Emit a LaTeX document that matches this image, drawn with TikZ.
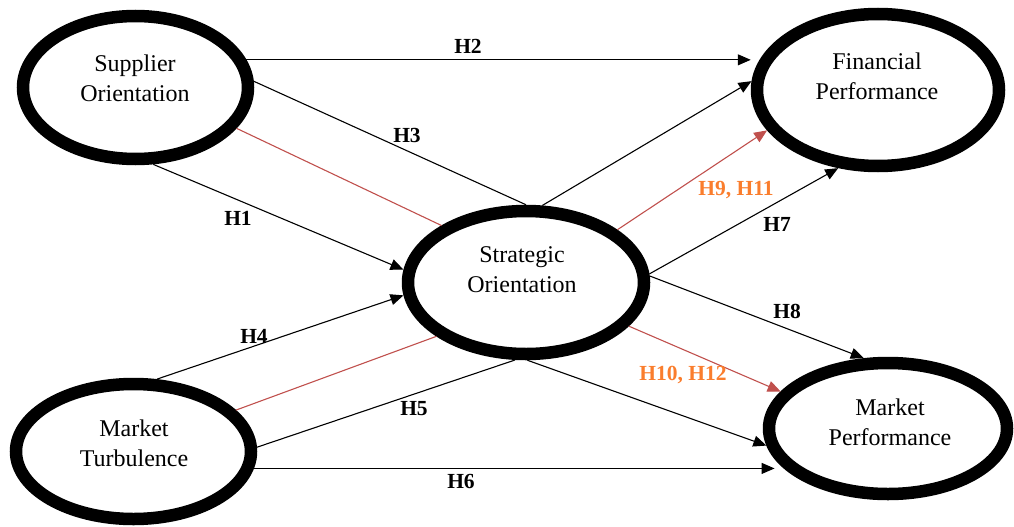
\documentclass[tikz,border=0pt]{standalone}
\usepackage{fontspec}
\setmainfont{Liberation Serif}
\usetikzlibrary{arrows.meta,shapes.geometric}
\definecolor{redline}{RGB}{192,80,77}
\definecolor{orangelab}{RGB}{250,125,45}
\begin{document}
\begin{tikzpicture}[x=1pt,y=-1pt,
  ell/.style={ellipse, draw=black, line width=12.5pt, fill=white, inner sep=0pt},
  conc/.style={align=center, font=\fontsize{24}{29.5}\selectfont, inner sep=0pt},
  conn/.style={draw=black, line width=1.1pt, -{Triangle[length=13pt,width=11pt]}},
  plainline/.style={draw=black, line width=1.1pt},
  redconn/.style={draw=redline, line width=1.1pt, -{Triangle[length=13pt,width=11pt]}},
  redplain/.style={draw=redline, line width=1.1pt},
  hlab/.style={font=\fontsize{21.5}{24}\selectfont\bfseries, inner sep=0pt, anchor=base},
  olab/.style={hlab, text=orangelab}]
\useasboundingbox (0,0) rectangle (1014,527);

% concepts
\node[ell, minimum width=225pt, minimum height=143pt] (so) at (135.5,87.5) {};
\node[ell, minimum width=236pt, minimum height=143pt] (sto) at (526,282.5) {};
\node[ell, minimum width=242pt, minimum height=152pt] (fp) at (878,90) {};
\node[ell, minimum width=235pt, minimum height=135pt] (mt) at (133.5,451.5) {};
\node[ell, minimum width=238pt, minimum height=131pt] (mp) at (888,428.5) {};

\node[conc] (sotx) at (135,78.5) {Supplier\\Orientation};
\node[conc] (stotx) at (522,269.8) {Strategic\\Orientation};
\node[conc] (fptx) at (877,76.5) {Financial\\Performance};
\node[conc] (mttx) at (134,443.5) {Market\\Turbulence};
\node[conc] (mptx) at (890,422.5) {Market\\Performance};

% connectors
\draw[conn] (so.14.6) -- (so.14.6 -| fp.west);
\draw[plainline] (so.3.6) -- (sto.90.7);
\draw[conn] (sto.-89.3) -- (mp.188.9);
\draw[redplain] (so.-22.1) -- (sto.146.9);
\draw[conn] (so.-77.3) -- (sto.174.7);

\draw[conn] (mt.72.3) -- (sto.186.7);
\draw[redplain] (mt.22.2) -- (sto.211.3);
\draw[plainline] (mt.2.1) -- (sto.262.1);
\draw[conn] (sto.78.3) -- (fp.176.8);
\draw[conn] (mt.-8.2) -- (mt.-8.2 -| mp.195);

\draw[redconn] (sto.30.1) -- (fp.200.9);
\draw[conn] (sto.4.8) -- (fp.243.7);
\draw[conn] (sto.3.0) -- (mp.109.2);
\draw[redconn] (sto.-23.3) -- (mp.161.5);

% labels
\node[hlab] (l2) at (468,53) {H2};
\node[hlab] (l3) at (407,142) {H3};
\node[hlab] (l1) at (238,225) {H1};
\node[hlab] (l4) at (254,343) {H4};
\node[hlab] (l5) at (414,415) {H5};
\node[hlab] (l6) at (461,488) {H6};
\node[hlab] (l7) at (777,231) {H7};
\node[hlab] (l8) at (787,318) {H8};
\node[olab] (l9) at (736,195) {H9, H11};
\node[olab] (l10) at (683,380) {H10, H12};
\end{tikzpicture}
\end{document}
